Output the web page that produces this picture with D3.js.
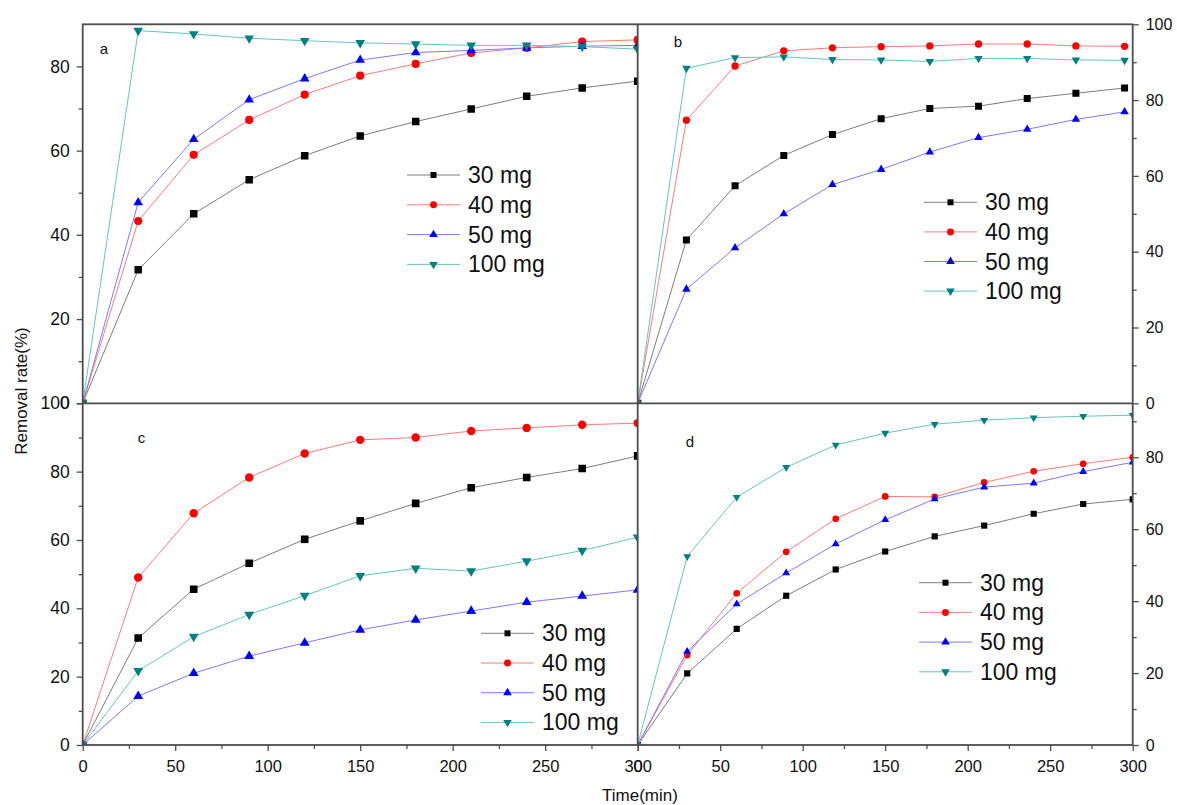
<!DOCTYPE html>
<html>
<head>
<meta charset="utf-8">
<script src="https://cdn.jsdelivr.net/npm/d3@7"></script>
<style>
  html, body { margin: 0; padding: 0; background: #fff; }
  svg { display: block; font-family: Arial, "Liberation Sans", sans-serif; }
</style>
</head>
<body>
<svg id="chart" width="1177" height="805"></svg>
<script>
// Sampling times (min)
const times = [0, 30, 60, 90, 120, 150, 180, 210, 240, 270, 300];
const seriesNames = ["30 mg", "40 mg", "50 mg", "100 mg"];

// Panel a – removal rate (%)
const a30  = [0, 31.7, 45.0, 53.1, 58.8, 63.5, 66.9, 69.9, 72.9, 74.9, 76.5];
const a40  = [0, 43.3, 59.0, 67.3, 73.3, 77.8, 80.6, 83.2, 84.4, 85.9, 86.3];
const a50  = [0, 47.7, 62.7, 72.1, 77.1, 81.5, 83.3, 83.8, 84.4, 84.8, 85.0];
const a100 = [0, 88.5, 87.7, 86.7, 86.1, 85.6, 85.3, 85.0, 85.0, 84.7, 84.1];

// Panel b
const b30  = [0, 43.1, 57.4, 65.4, 70.9, 75.1, 77.8, 78.4, 80.4, 81.8, 83.2];
const b40  = [0, 74.7, 89.0, 93.0, 93.8, 94.1, 94.3, 94.8, 94.8, 94.3, 94.2];
const b50  = [0, 30.1, 41.0, 50.0, 57.7, 61.7, 66.3, 70.1, 72.3, 74.9, 76.9];
const b100 = [0, 88.4, 91.2, 91.4, 90.7, 90.6, 90.2, 91.0, 91.0, 90.6, 90.5];

// Panel c
const c30  = [0, 31.3, 45.6, 53.2, 60.2, 65.6, 70.7, 75.3, 78.3, 80.9, 84.6];
const c40  = [0, 49.0, 67.8, 78.3, 85.3, 89.3, 90.0, 91.9, 92.8, 93.7, 94.2];
const c50  = [0, 14.3, 21.0, 26.0, 29.9, 33.7, 36.6, 39.2, 41.8, 43.6, 45.4];
const c100 = [0, 21.7, 31.7, 38.2, 43.7, 49.5, 51.7, 50.9, 53.8, 56.9, 60.8];

// Panel d
const d30  = [0, 19.9, 32.3, 41.5, 48.8, 53.8, 58.0, 61.0, 64.3, 67.0, 68.3];
const d40  = [0, 25.0, 42.2, 53.7, 62.9, 69.1, 69.0, 73.0, 76.1, 78.2, 80.0];
const d50  = [0, 26.0, 39.2, 47.8, 55.9, 62.6, 68.4, 71.7, 72.8, 76.0, 78.6];
const d100 = [0, 52.4, 68.9, 77.2, 83.4, 86.7, 89.2, 90.3, 91.0, 91.4, 91.7];

// Axis ticks
const xTicks = [0, 50, 100, 150, 200, 250, 300];
const xMinor = [25, 75, 125, 175, 225, 275];
const yTicksA = [0, 20, 40, 60, 80];
const yMinorA = [10, 30, 50, 70];
const yTicks100 = [0, 20, 40, 60, 80, 100];
const yMinor100 = [10, 30, 50, 70, 90];
const yTicksD = [0, 20, 40, 60, 80];
const yMinorD = [10, 30, 50, 70, 90];

const svg = d3.select("#chart");

// Frame geometry
const X0 = 82.7, XM = 637.7, X1 = 1132.7;
const Y0 = 24.3, YM = 403.3, Y1 = 745;

const xLeft  = d3.scaleLinear().domain([0, 300]).range([X0, XM]);
const xB     = d3.scaleLinear().domain([0, 305]).range([XM, X1]);
const xD     = d3.scaleLinear().domain([0, 300]).range([XM, X1]);
const yA = d3.scaleLinear().domain([0, 90]).range([YM, Y0]);
const yB = d3.scaleLinear().domain([0, 100]).range([YM, Y0]);
const yC = d3.scaleLinear().domain([0, 100]).range([Y1, YM]);
const yD = d3.scaleLinear().domain([0, 95]).range([Y1, YM]);

const styles = [
  { line: "#7d7d7d", fill: "#000000", shape: d3.symbolSquare,   rot: 0 },
  { line: "#ff7a7a", fill: "#ff0000", shape: d3.symbolCircle,   rot: 0 },
  { line: "#7a7aff", fill: "#0000ff", shape: d3.symbolTriangle, rot: 0 },
  { line: "#62c7be", fill: "#008080", shape: d3.symbolTriangle, rot: 180 }
];

const panels = [
  { id: "a", x: xLeft, y: yA, data: [a30, a40, a50, a100], sizes: [56, 52, 40, 40],
    letter: [104, 54], legend: [407, 175, 29.8] },
  { id: "b", x: xB, y: yB, data: [b30, b40, b50, b100], sizes: [49, 42, 31, 31],
    letter: [678, 47], legend: [924, 202.3, 29.6] },
  { id: "c", x: xLeft, y: yC, data: [c30, c40, c50, c100], sizes: [58, 56, 42, 42],
    letter: [141.5, 443], legend: [481, 633.3, 29.7] },
  { id: "d", x: xD, y: yD, data: [d30, d40, d50, d100], sizes: [38, 35, 27, 27],
    letter: [690, 447], legend: [919, 582.7, 29.7] }
];

// Clip regions for each panel's plotting area
const defs = svg.append("defs");
panels.forEach(p => {
  const [xa, xb] = p.x.range();
  const [ya, yb] = p.y.range();
  defs.append("clipPath").attr("id", "clip-" + p.id)
    .append("rect")
    .attr("x", Math.min(xa, xb)).attr("y", Math.min(ya, yb))
    .attr("width", Math.abs(xb - xa)).attr("height", Math.abs(yb - ya));
});

// Data series
panels.forEach(p => {
  const g = svg.append("g").attr("clip-path", "url(#clip-" + p.id + ")");
  p.data.forEach((vals, si) => {
    const st = styles[si];
    const pts = times.map((t, i) => [t, vals[i]]);
    const line = d3.line().x(d => p.x(d[0])).y(d => p.y(d[1]));
    g.append("path").datum(pts)
      .attr("d", line)
      .attr("fill", "none")
      .attr("stroke", st.line)
      .attr("stroke-width", 1);
    const sym = d3.symbol().type(st.shape).size(p.sizes[si]);
    g.selectAll(null).data(pts).enter().append("path")
      .attr("d", sym)
      .attr("transform", d => `translate(${p.x(d[0])},${p.y(d[1])}) rotate(${st.rot})`)
      .attr("fill", st.fill);
  });
});

// Axes
const axisColor = "#4d4d4d";
function styleAxis(fontSize) {
  return sel => {
    sel.select(".domain").remove();
    sel.selectAll(".tick line").attr("stroke", axisColor).attr("stroke-width", 1.3);
    sel.selectAll(".tick text").attr("fill", "#111").style("font-size", fontSize + "px");
  };
}
function addAxis(axisFn, scale, majors, minors, transform, padding, fontSize) {
  svg.append("g").attr("transform", transform)
    .call(axisFn(scale).tickValues(minors).tickSize(4).tickFormat(""))
    .call(styleAxis(fontSize));
  svg.append("g").attr("transform", transform)
    .call(axisFn(scale).tickValues(majors).tickSize(6).tickPadding(padding).tickFormat(d3.format("d")))
    .call(styleAxis(fontSize));
}

addAxis(d3.axisLeft,  yA, yTicksA,   yMinorA,   `translate(${X0},0)`, 7, 17.5);
addAxis(d3.axisLeft,  yC, yTicks100, yMinor100, `translate(${X0},0)`, 7, 17.5);
addAxis(d3.axisRight, yB, yTicks100, yMinor100, `translate(${X1},0)`, 7, 16);
addAxis(d3.axisRight, yD, yTicksD,   yMinorD,   `translate(${X1},0)`, 7, 16);
addAxis(d3.axisBottom, xLeft, xTicks, xMinor, `translate(0,${Y1})`, 9, 16.5);
addAxis(d3.axisBottom, xD,    xTicks, xMinor, `translate(0,${Y1})`, 9, 16.5);

// Panel frames
const frame = svg.append("g").attr("stroke", axisColor).attr("stroke-width", 1.8).attr("fill", "none");
frame.append("rect").attr("x", X0).attr("y", Y0).attr("width", X1 - X0).attr("height", Y1 - Y0);
frame.append("line").attr("x1", X0).attr("x2", X1).attr("y1", YM).attr("y2", YM);
frame.append("line").attr("x1", XM).attr("x2", XM).attr("y1", Y0).attr("y2", Y1);

// Panel letters and legends
panels.forEach(p => {
  svg.append("text")
    .attr("x", p.letter[0]).attr("y", p.letter[1])
    .attr("text-anchor", "middle")
    .style("font-size", "15px").attr("fill", "#111")
    .text(p.id);

  const [lx, ly, step] = p.legend;
  const lg = svg.append("g");
  seriesNames.forEach((name, si) => {
    const st = styles[si];
    const yy = ly + si * step;
    lg.append("line").attr("x1", lx).attr("x2", lx + 53).attr("y1", yy).attr("y2", yy)
      .attr("stroke", st.line).attr("stroke-width", 1);
    lg.append("path")
      .attr("d", d3.symbol().type(st.shape).size([36, 38, 32, 32][si])())
      .attr("transform", `translate(${lx + 26.5},${yy}) rotate(${st.rot})`)
      .attr("fill", st.fill);
    lg.append("text").attr("x", lx + 61).attr("y", yy).attr("dy", "0.35em")
      .style("font-size", "23px").attr("fill", "#111")
      .text(name);
  });
});

// Axis titles
svg.append("text")
  .attr("transform", "translate(27,391) rotate(-90)")
  .attr("text-anchor", "middle")
  .style("font-size", "17px").attr("fill", "#111")
  .text("Removal rate(%)");

svg.append("text")
  .attr("x", 640).attr("y", 801)
  .attr("text-anchor", "middle")
  .style("font-size", "17px").attr("fill", "#111")
  .text("Time(min)");
</script>
</body>
</html>
